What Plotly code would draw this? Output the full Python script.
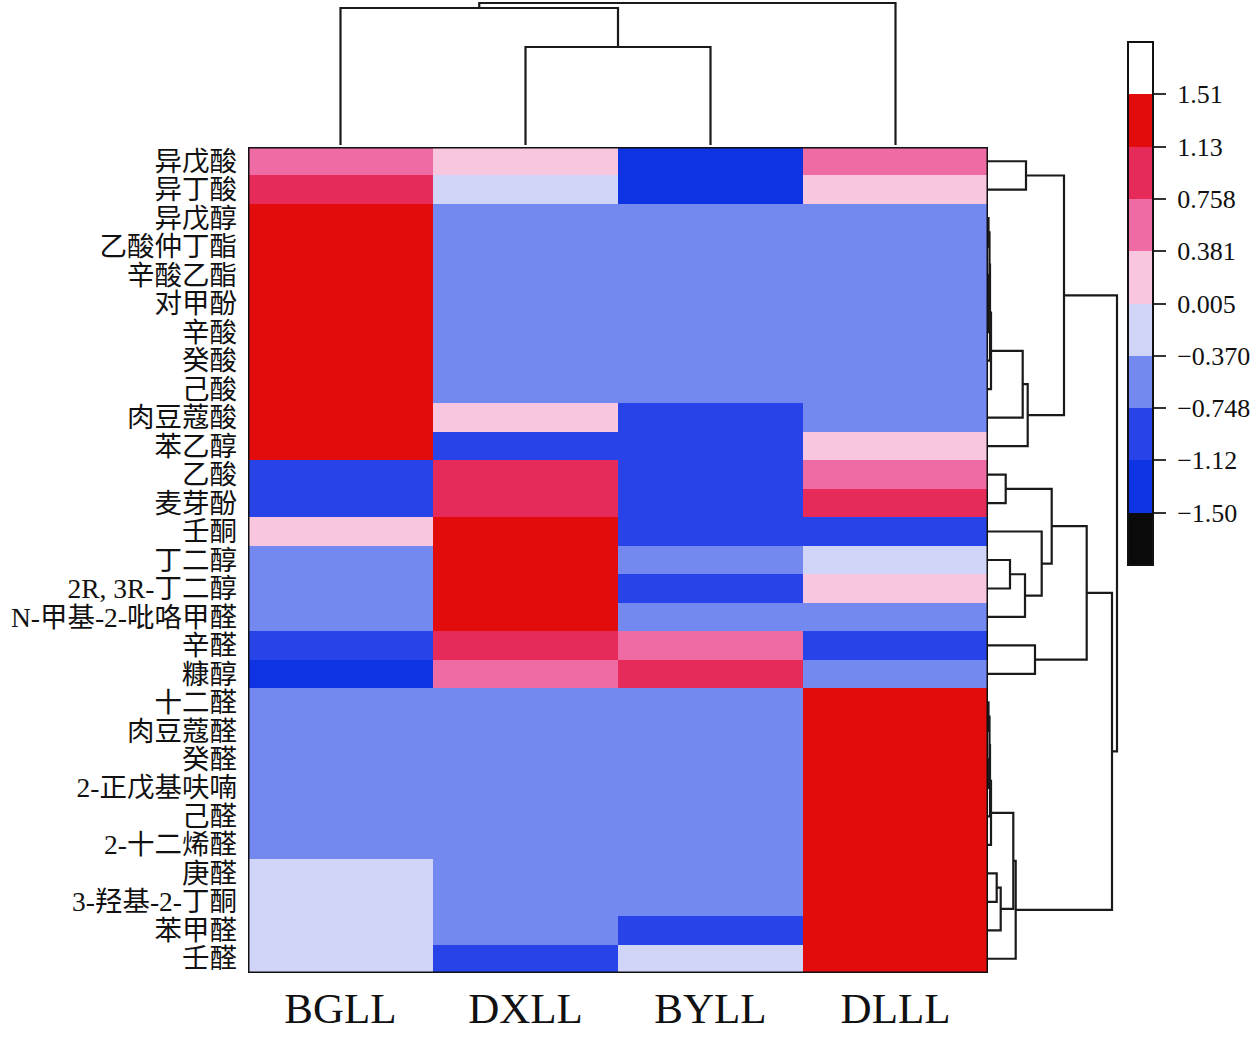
import numpy as np
import plotly.graph_objects as go

# ---------------- data ----------------
samples = ["BGLL", "DXLL", "BYLL", "DLLL"]
compounds = ["异戊酸", "异丁酸", "异戊醇", "乙酸仲丁酯", "辛酸乙酯", "对甲酚", "辛酸", "癸酸",
             "己酸", "肉豆蔻酸", "苯乙醇", "乙酸", "麦芽酚", "壬酮", "丁二醇", "2R, 3R-丁二醇",
             "N-甲基-2-吡咯甲醛", "辛醛", "糠醇", "十二醛", "肉豆蔻醛", "癸醛", "2-正戊基呋喃",
             "己醛", "2-十二烯醛", "庚醛", "3-羟基-2-丁酮", "苯甲醛", "壬醛"]

BGLL = [0.57, 0.94, 1.32, 1.32, 1.32, 1.32, 1.32, 1.32, 1.32, 1.32, 1.32, -0.93, -0.93, 0.19,
        -0.56, -0.56, -0.56, -0.93, -1.31, -0.56, -0.56, -0.56, -0.56, -0.56, -0.56,
        -0.18, -0.18, -0.18, -0.18]
DXLL = [0.19, -0.18, -0.56, -0.56, -0.56, -0.56, -0.56, -0.56, -0.56, 0.19, -0.93, 0.94, 0.94,
        1.32, 1.32, 1.32, 1.32, 0.94, 0.57, -0.56, -0.56, -0.56, -0.56, -0.56, -0.56,
        -0.56, -0.56, -0.56, -0.93]
BYLL = [-1.31, -1.31, -0.56, -0.56, -0.56, -0.56, -0.56, -0.56, -0.56, -0.93, -0.93, -0.93, -0.93,
        -0.93, -0.56, -0.93, -0.56, 0.57, 0.94, -0.56, -0.56, -0.56, -0.56, -0.56, -0.56,
        -0.56, -0.56, -0.93, -0.18]
DLLL = [0.57, 0.19, -0.56, -0.56, -0.56, -0.56, -0.56, -0.56, -0.56, -0.56, 0.19, 0.57, 0.94,
        -0.93, -0.18, 0.19, -0.56, -0.93, -0.56, 1.32, 1.32, 1.32, 1.32, 1.32, 1.32,
        1.32, 1.32, 1.32, 1.32]

cbar_ticks = [-1.50, -1.12, -0.748, -0.370, 0.005, 0.381, 0.758, 1.13, 1.51]
cbar_ticktext = ["\u22121.50", "\u22121.12", "\u22120.748", "\u22120.370", "0.005",
                 "0.381", "0.758", "1.13", "1.51"]
band_colors = ["#0A0A0A", "#0E33E2", "#2844E8", "#7489F0", "#D0D5F8",
               "#F9C6E0", "#EF6BA3", "#E62B5A", "#E30C0C", "#FFFFFF"]

# hierarchical clustering merges: (child_a, child_b, height)
col_linkage = [(1, 2, 98), (0, 4, 137), (5, 3, 142)]
row_linkage = [
    (0, 1, 38), (2, 3, 0.5), (5, 6, 0.5), (4, 31, 1), (30, 32, 1.5), (33, 7, 2), (34, 8, 3),
    (35, 9, 34.7), (36, 10, 39.7), (29, 37, 76), (11, 12, 17.7), (14, 15, 22), (40, 16, 37),
    (13, 41, 53.7), (39, 42, 63.7), (17, 18, 47), (43, 44, 98.7), (19, 20, 0.5), (21, 22, 0.5),
    (46, 47, 1.5), (48, 23, 2), (49, 24, 3), (25, 26, 8.7), (51, 27, 12.7), (50, 52, 25.3),
    (53, 28, 27.7), (45, 54, 124), (38, 55, 129),
]

# ---------------- geometry ----------------
W, H = 1260, 1037
hx0, hx1 = 248 / W, 988 / W
hy0, hy1 = 1 - 973 / H, 1 - 147 / H
nrow, ncol = len(compounds), len(samples)


def dendro(linkage, n):
    pos = list(range(n))
    hts = [0.0] * n
    P, Q = [], []
    for a, b, h in linkage:
        pa, pb, ha, hb = pos[a], pos[b], hts[a], hts[b]
        P += [pa, pa, pb, pb, None]
        Q += [ha, h, h, hb, None]
        pos.append((pa + pb) / 2)
        hts.append(h)
    return P, Q


z = np.array([BGLL, DXLL, BYLL, DLLL]).T
zmin_step = (cbar_ticks[-1] - cbar_ticks[0]) / (len(cbar_ticks) - 1)
zmin = cbar_ticks[0] - zmin_step
zmax = cbar_ticks[-1] + zmin_step
nb = len(band_colors)
colorscale = []
for k, c in enumerate(band_colors):
    colorscale.append([k / nb, c])
    colorscale.append([(k + 1) / nb, c])

serif = "Liberation Serif, Noto Sans CJK SC, serif"

fig = go.Figure()
fig.add_trace(go.Heatmap(
    z=z, x=list(range(ncol)), y=list(range(nrow)),
    zmin=zmin, zmax=zmax, colorscale=colorscale, hoverinfo="skip",
    colorbar=dict(
        x=1128 / W, xanchor="left", xpad=0, y=1 - 42 / H, yanchor="top", ypad=0,
        len=523 / H, lenmode="fraction", thickness=25, thicknessmode="pixels",
        outlinecolor="#111", outlinewidth=2,
        tickvals=cbar_ticks, ticktext=[" " + t for t in cbar_ticktext], ticks="outside",
        ticklen=12, tickwidth=2, tickcolor="#333",
        tickfont=dict(family=serif, size=26, color="#111"),
    ),
))

# top dendrogram
cx, ch = dendro(col_linkage, ncol)
fig.add_trace(go.Scatter(x=cx, y=ch, mode="lines", line=dict(color="#1a1a1a", width=2.2),
                         xaxis="x2", yaxis="y2", hoverinfo="skip", showlegend=False))
# right dendrogram
ry, rh = dendro(row_linkage, nrow)
fig.add_trace(go.Scatter(x=rh, y=ry, mode="lines", line=dict(color="#1a1a1a", width=2.2),
                         xaxis="x3", yaxis="y3", hoverinfo="skip", showlegend=False))

fig.add_shape(type="rect", xref="x", yref="y", x0=-0.5, x1=ncol - 0.5, y0=-0.5, y1=nrow - 0.5,
              line=dict(color="#111", width=3), fillcolor="rgba(0,0,0,0)", layer="above")

fig.update_layout(
    template="none",
    width=W, height=H, autosize=False,
    margin=dict(l=0, r=0, t=0, b=0, pad=0),
    paper_bgcolor="white", plot_bgcolor="white",
    showlegend=False,
    xaxis=dict(domain=[hx0, hx1], range=[-0.5, ncol - 0.5], tickvals=list(range(ncol)),
               ticktext=samples, tickfont=dict(family=serif, size=43, color="#111"),
               showgrid=False, zeroline=False, ticks="", showline=False, anchor="y",
               ticklabelstandoff=6, fixedrange=True),
    yaxis=dict(domain=[hy0, hy1], range=[nrow - 0.5, -0.5], tickvals=list(range(nrow)),
               ticktext=compounds, tickfont=dict(family=serif, size=27.5, color="#111"),
               showgrid=False, zeroline=False, ticks="", showline=False, anchor="x",
               ticklabelstandoff=10, fixedrange=True),
    xaxis2=dict(domain=[hx0, hx1], range=[-0.5, ncol - 0.5], visible=False, anchor="y2"),
    yaxis2=dict(domain=[1 - 145 / H, 1], range=[0, 145], visible=False, anchor="x2"),
    xaxis3=dict(domain=[988 / W, 1130 / W], range=[0, 142], visible=False, anchor="y3"),
    yaxis3=dict(domain=[hy0, hy1], range=[nrow - 0.5, -0.5], visible=False, anchor="x3"),
)

fig.write_html("out.html", config={"displayModeBar": False},
               post_script="document.body.style.margin='0';")
